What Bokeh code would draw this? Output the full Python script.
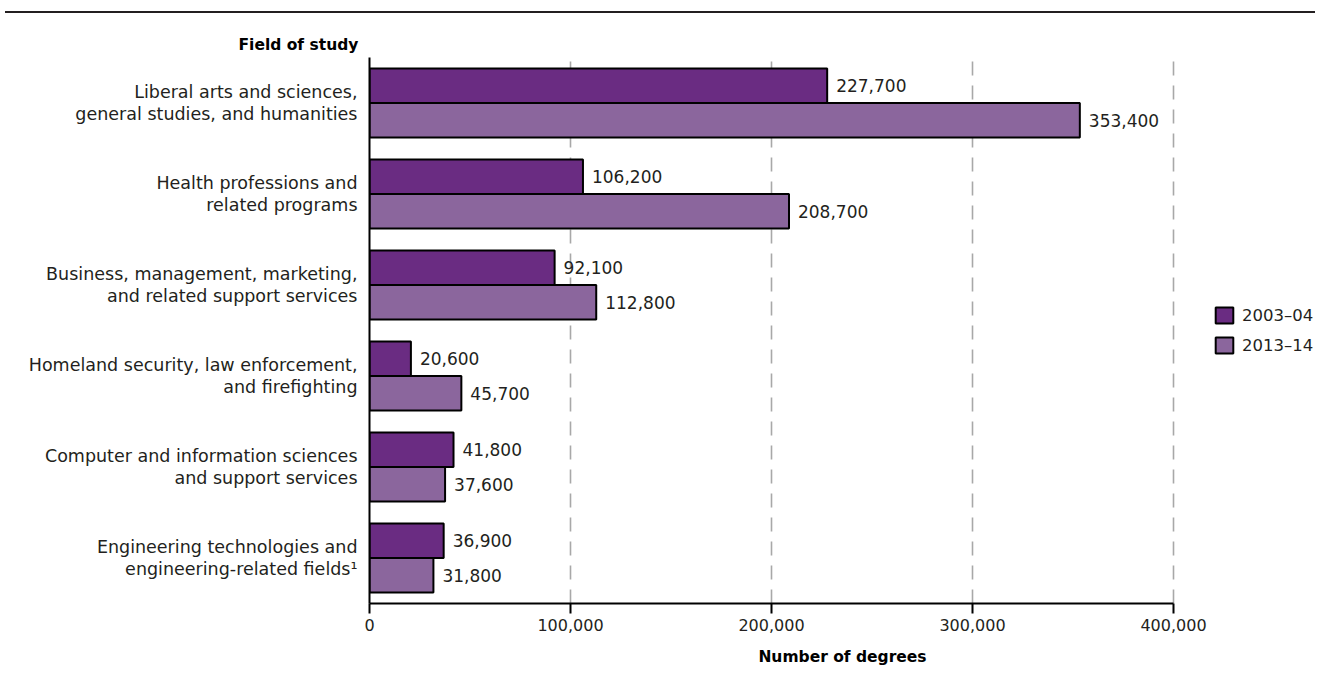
from bokeh.plotting import figure
from bokeh.models import (Legend, LegendItem, FixedTicker, NumeralTickFormatter,
                          ColumnDataSource, Title, Div)
from bokeh.layouts import column
from bokeh.embed import file_html
from bokeh.resources import INLINE

categories = [
    "Liberal arts and sciences,\ngeneral studies, and humanities",
    "Health professions and\nrelated programs",
    "Business, management, marketing,\nand related support services",
    "Homeland security, law enforcement,\nand firefighting",
    "Computer and information sciences\nand support services",
    "Engineering technologies and\nengineering-related fields\u00b9",
]
values_2003 = [227700, 106200, 92100, 20600, 41800, 36900]
values_2013 = [353400, 208700, 112800, 45700, 37600, 31800]
series_names = ["2003\u201304", "2013\u201314"]
x_ticks = [0, 100000, 200000, 300000, 400000]

DARK = "#6A2C82"
LIGHT = "#8B669D"
TXT = "#231F20"
FONT = "DejaVu Sans"

n = len(categories)
centers = [n - i - 0.5 for i in range(n)]
bar_h = 0.38
off = 0.19

# layout (pixels)
W = 1315
LEFT = 369          # frame left
AXIS_W = 804        # width of the 0..400,000 axis
FRAME_W = W - LEFT  # frame extends to the right edge (legend lives inside it)
x_end = x_ticks[-1] * FRAME_W / AXIS_W

p = figure(width=W, height=660, x_range=(0, x_end), y_range=(0, n),
           output_backend="svg", toolbar_location=None,
           min_border_left=LEFT, min_border_right=0, min_border_top=44, min_border_bottom=70)
p.outline_line_color = None
p.background_fill_color = "white"

src1 = ColumnDataSource(dict(y=[c + off for c in centers], v=values_2003,
                             t=[f"{v:,}" for v in values_2003]))
src2 = ColumnDataSource(dict(y=[c - off for c in centers], v=values_2013,
                             t=[f"{v:,}" for v in values_2013]))

r1 = p.hbar(y="y", right="v", left=0, height=bar_h, source=src1,
            fill_color=DARK, line_color="black", line_width=2)
r2 = p.hbar(y="y", right="v", left=0, height=bar_h, source=src2,
            fill_color=LIGHT, line_color="black", line_width=2)

for s in (src1, src2):
    p.text(x="v", y="y", text="t", source=s, x_offset=9, text_baseline="middle",
           text_align="left", text_font_size="17px", text_color=TXT,
           text_font={"value": FONT})

# grid
p.ygrid.visible = False
p.xgrid.ticker = FixedTicker(ticks=x_ticks[1:])
p.xgrid.grid_line_color = "#A8A8A8"
p.xgrid.grid_line_width = 1.6
p.xgrid.grid_line_dash = "14 10"

# x axis
xa = p.xaxis[0]
xa.bounds = (x_ticks[0], x_ticks[-1])
xa.ticker = FixedTicker(ticks=x_ticks)
xa.formatter = NumeralTickFormatter(format="0,0")
xa.axis_line_width = 2
xa.axis_line_color = "black"
xa.major_tick_line_width = 2
xa.major_tick_line_color = "black"
xa.major_tick_out = 10
xa.major_tick_in = 0
xa.minor_tick_line_color = None
xa.major_label_text_font = FONT
xa.major_label_text_font_size = "16px"
xa.major_label_text_color = TXT
xa.major_label_standoff = 5
xa.axis_label = "Number of degrees"
xa.axis_label_text_font = FONT
xa.axis_label_text_font_style = "bold"
xa.axis_label_text_font_size = "15.5px"
xa.axis_label_text_color = "black"
xa.axis_label_standoff = 14

# y axis: line + category labels
ya = p.yaxis[0]
ya.ticker = FixedTicker(ticks=centers)
ya.major_label_overrides = {c: lab for c, lab in zip(centers, categories)}
ya.axis_line_width = 2
ya.axis_line_color = "black"
ya.major_tick_line_color = None
ya.major_tick_out = 0
ya.major_tick_in = 0
ya.minor_tick_line_color = None
ya.major_label_text_font = FONT
ya.major_label_text_font_size = "17.5px"
ya.major_label_text_color = TXT
ya.major_label_text_line_height = 1.13
ya.major_label_standoff = 12

p.title = Title(text="Field of study", align="left", offset=-131, standoff=7,
                text_font=FONT, text_font_style="bold",
                text_font_size="15.5px", text_color="black")

legend = Legend(items=[LegendItem(label=series_names[0], renderers=[r1]),
                       LegendItem(label=series_names[1], renderers=[r2])],
                location=(844, 248), orientation="vertical")
legend.background_fill_alpha = 0
legend.border_line_color = None
legend.padding = 0
legend.margin = 0
legend.spacing = 10
legend.glyph_width = 22
legend.glyph_height = 20
legend.label_standoff = 7
legend.label_text_font = FONT
legend.label_text_font_size = "16.5px"
legend.label_text_color = TXT
legend.label_height = 20
p.add_layout(legend)

rule = Div(text="", width=W - 5, height=11, margin=(0, 0, 0, 5),
           styles={"border-bottom": "2px solid #231F20", "box-sizing": "content-box"})

open("out.html", "w").write(file_html(column(rule, p), INLINE))
